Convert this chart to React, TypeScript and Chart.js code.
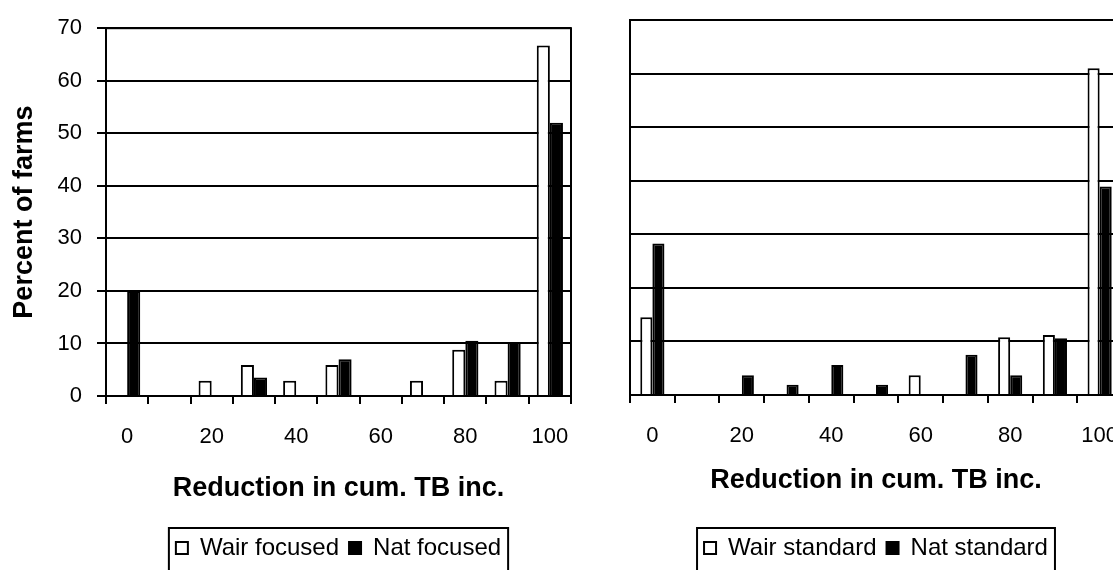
import React, { useEffect, useRef } from 'react';
import { Chart, registerables } from 'chart.js';

Chart.register(...registerables);

// ---------- data ----------
const categories = ['0', '10', '20', '30', '40', '50', '60', '70', '80', '90', '100'];
const wairFocused = [0, 0, 2.9, 5.9, 2.9, 5.9, 0, 2.9, 8.8, 2.9, 66.7];
const natFocused = [20, 0, 0, 3.5, 0, 7, 0, 0, 10.5, 10.3, 52];
const wairStandard = [14.5, 0, 0, 0, 0, 0, 3.7, 0, 10.8, 11.2, 61];
const natStandard = [28.3, 0, 3.7, 1.9, 5.6, 1.9, 0, 7.5, 3.7, 10.6, 38.9];
const yTickValues = [0, 10, 20, 30, 40, 50, 60, 70];
const xTitle = 'Reduction in cum. TB inc.';
const yTitle = 'Percent of farms';
const focusedLabels = ['Wair focused', 'Nat focused'];
const standardLabels = ['Wair standard', 'Nat standard'];

const FONT = "'Liberation Sans', Arial, Helvetica, sans-serif";

const panelPlugin = {
  id: 'panelFrame',
  afterLayout(chart: any) {
    const lg = chart.legend;
    const a = chart.chartArea;
    if (lg && a) {
      lg.left = a.left;
      lg.right = a.right;
      lg.width = a.right - a.left;
    }
  },
  afterDatasetsDraw(chart: any) {
    const { ctx, chartArea: a } = chart;
    ctx.save();
    ctx.strokeStyle = '#000';
    ctx.lineWidth = 2;
    ctx.strokeRect(a.left, a.top, a.right - a.left, a.bottom - a.top);
    ctx.restore();
  },
  afterDraw(chart: any) {
    const lg = chart.legend;
    if (!lg || !lg.legendHitBoxes || !lg.legendHitBoxes.length) return;
    const hb = lg.legendHitBoxes;
    const ctx = chart.ctx;
    const x0 = hb[0].left - 7;
    const last = hb[hb.length - 1];
    const x1 = last.left + last.width + 7;
    ctx.save();
    ctx.strokeStyle = '#000';
    ctx.lineWidth = 2;
    ctx.strokeRect(x0, lg.top + 2, x1 - x0, chart.height);
    ctx.restore();
  },
};

type PanelProps = {
  wair: number[];
  nat: number[];
  labels: string[];
  width: number;
  showY: boolean;
  yWidth: number;
  padTop: number;
  padRight: number;
  xHeight: number;
  xTitlePad: number;
  catPct: number;
};

function Panel(p: PanelProps) {
  const ref = useRef<HTMLCanvasElement | null>(null);
  useEffect(() => {
    if (!ref.current) return;
    const chart = new Chart(ref.current, {
      type: 'bar',
      data: {
        labels: categories,
        datasets: [
          {
            label: p.labels[0],
            data: p.wair,
            backgroundColor: '#ffffff',
            borderColor: '#000000',
            borderWidth: 2,
            categoryPercentage: p.catPct,
            barPercentage: 1,
          },
          {
            label: p.labels[1],
            data: p.nat,
            backgroundColor: '#000000',
            borderColor: '#000000',
            borderWidth: 2,
            categoryPercentage: p.catPct,
            barPercentage: 1,
          },
        ],
      },
      options: {
        responsive: false,
        animation: false,
        devicePixelRatio: 1,
        layout: { padding: { top: p.padTop, left: 0, right: p.padRight, bottom: 0 } },
        plugins: {
          tooltip: { enabled: false },
          legend: {
            display: true,
            position: 'bottom',
            labels: {
              color: '#000',
              font: { family: FONT, size: 24 },
              boxWidth: 12,
              boxHeight: 12,
              padding: 10,
            },
          },
        },
        scales: {
          x: {
            offset: true,
            grid: {
              display: true,
              offset: true,
              drawOnChartArea: false,
              drawTicks: true,
              tickLength: 8,
              color: '#000',
              lineWidth: 2,
            },
            border: { display: true, color: '#000', width: 2 },
            ticks: {
              autoSkip: false,
              maxRotation: 0,
              minRotation: 0,
              padding: 20,
              color: '#000',
              font: { family: FONT, size: 22 },
              callback: (_v: any, i: number) => (i % 2 === 0 ? categories[i] : ''),
            },
            title: {
              display: true,
              text: xTitle,
              color: '#000',
              font: { family: FONT, size: 27, weight: 'bold' },
              padding: { top: 0, bottom: p.xTitlePad },
            },
            afterFit: (s: any) => {
              s.height = p.xHeight;
            },
          },
          y: {
            min: 0,
            max: 70,
            afterBuildTicks: (s: any) => {
              s.ticks = yTickValues.map((v) => ({ value: v }));
            },
            ticks: {
              display: p.showY,
              padding: 15,
              color: '#000',
              font: { family: FONT, size: 22 },
            },
            grid: {
              color: '#000',
              lineWidth: 2,
              drawTicks: p.showY,
              tickLength: 9,
            },
            border: { display: true, color: '#000', width: 2 },
            title: {
              display: p.showY,
              text: yTitle,
              color: '#000',
              font: { family: FONT, size: 27, weight: 'bold' },
              padding: { top: 8, bottom: 0 },
            },
            afterFit: (s: any) => {
              s.width = p.yWidth;
            },
          },
        },
      } as any,
      plugins: [panelPlugin],
    });
    return () => chart.destroy();
  }, []);
  return <canvas ref={ref} width={p.width} height={570} style={{ display: 'block' }} />;
}

export default function App() {
  return (
    <div
      style={{
        position: 'fixed',
        left: 0,
        top: 0,
        width: 1113,
        height: 570,
        overflow: 'hidden',
        background: '#fff',
      }}
    >
      <div style={{ position: 'absolute', left: 0, top: 0 }}>
        <Panel
          wair={wairFocused}
          nat={natFocused}
          labels={focusedLabels}
          width={600}
          showY={true}
          yWidth={106}
          padTop={26}
          padRight={29}
          xHeight={130}
          xTitlePad={21}
          catPct={0.62}
        />
      </div>
      <div style={{ position: 'absolute', left: 600, top: 0 }}>
        <Panel
          wair={wairStandard}
          nat={natStandard}
          labels={standardLabels}
          width={540}
          showY={false}
          yWidth={30}
          padTop={20}
          padRight={18}
          xHeight={131}
          xTitlePad={29}
          catPct={0.54}
        />
      </div>
    </div>
  );
}
